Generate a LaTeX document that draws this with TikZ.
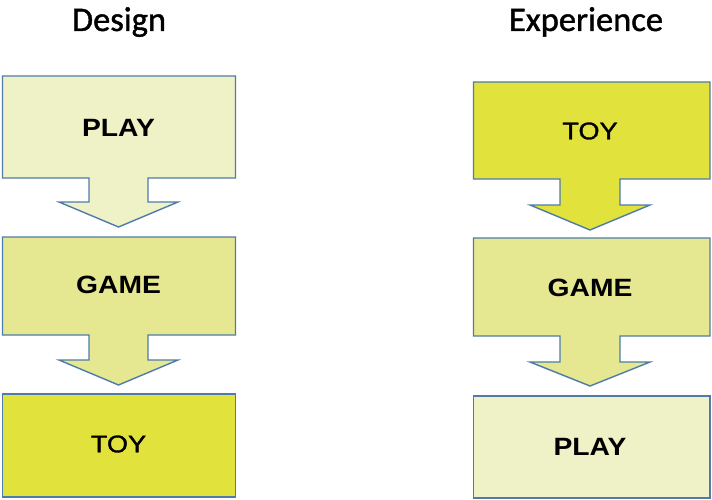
\documentclass[tikz,border=0pt]{standalone}
\usepackage{fontspec}
\usepackage{graphicx}
\newfontfamily\titlefont[FakeBold=1.2]{Carlito}
\newfontfamily\boxfont{Liberation Sans}
\newfontfamily\boxfontreg[FakeBold=1.3]{Liberation Sans}
\definecolor{pale}{HTML}{EFF2C6}
\definecolor{mid}{HTML}{E5E891}
\definecolor{strong}{HTML}{E2E23D}
\definecolor{edge}{HTML}{4E7BAA}
\tikzset{
  shapebox/.style={draw=edge, line width=1.4pt, line join=miter},
  ttl/.style={font=\titlefont\fontsize{34.5}{40}\selectfont, anchor=base, text=black},
  lbl/.style={font=\boxfont\fontsize{25}{29}\selectfont, text=black, inner sep=0pt},
  lblr/.style={font=\boxfontreg\fontsize{24}{29}\selectfont, text=black, inner sep=0pt},
}
\newcommand\boxtext[1]{\scalebox{1.13}[1]{#1}}
\begin{document}
\begin{tikzpicture}[x=1pt,y=-1pt]
\useasboundingbox (0,0) rectangle (712,500);
% titles
\node[ttl] (t1) at (119,31) {Design};
\node[ttl] (t2) at (586,31) {Experience};
% left column
\path[shapebox, fill=pale] (2.5,76) -- (235.5,76) -- (235.5,178) -- (148,178) -- (148,202) -- (178,202) -- (118.5,227) -- (59,202) -- (89,202) -- (89,178) -- (2.5,178) -- cycle;
\path[shapebox, fill=mid] (2.5,237) -- (235.5,237) -- (235.5,335) -- (148,335) -- (148,360) -- (178,360) -- (118.5,385) -- (59,360) -- (89,360) -- (89,335) -- (2.5,335) -- cycle;
\path[shapebox, fill=strong] (2.5,394) rectangle (235.5,497);
\node[lbl] (l1) at (118.5,128) {\boxtext{\bfseries PLAY}};
\node[lbl] (l2) at (118.5,285) {\boxtext{\bfseries GAME}};
\node[lblr] (l3) at (118.5,444) {\boxtext{TOY}};
% right column
\path[shapebox, fill=strong] (473.5,82) -- (710,82) -- (710,179) -- (620,179) -- (620,205) -- (650,205) -- (590,230) -- (530,205) -- (560,205) -- (560,179) -- (473.5,179) -- cycle;
\path[shapebox, fill=mid] (473.5,238) -- (710,238) -- (710,336) -- (620,336) -- (620,362) -- (650,362) -- (590,386) -- (530,362) -- (560,362) -- (560,336) -- (473.5,336) -- cycle;
\path[shapebox, fill=pale] (473.5,396) rectangle (710,498);
\node[lblr] (r1) at (590,131) {\boxtext{TOY}};
\node[lbl] (r2) at (590,288) {\boxtext{\bfseries GAME}};
\node[lbl] (r3) at (590,447) {\boxtext{\bfseries PLAY}};
\end{tikzpicture}
\end{document}
